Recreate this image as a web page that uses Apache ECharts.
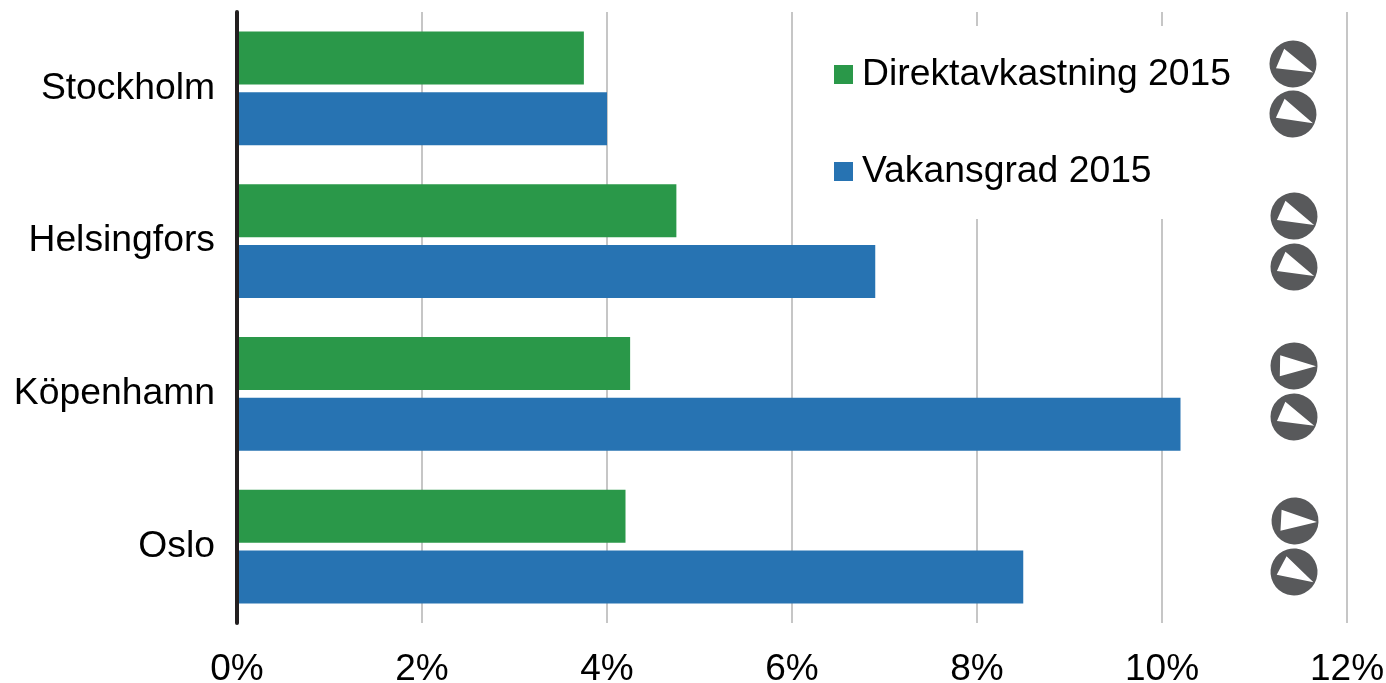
<!DOCTYPE html>
<html><head><meta charset="utf-8">
<script src="https://cdn.jsdelivr.net/npm/echarts@6/dist/echarts.min.js"></script>
<style>html,body{margin:0;padding:0;background:#fff}#c{width:1386px;height:683px}</style></head>
<body><div id="c"></div>
<script>
const cities = ['Stockholm','Helsingfors','Köpenhamn','Oslo'];
const yieldName = 'Direktavkastning 2015';
const vacancyName = 'Vakansgrad 2015';
const yield2015 = [3.75,4.75,4.25,4.2];
const vacancy2015 = [4.0,6.9,10.2,8.5];
const arrowX = [11.416,11.416,11.427,11.427,11.427,11.427,11.438,11.427];
const arrowY = [0.34,0.668,1.336,1.67,2.317,2.651,3.332,3.666];
const arrowAngle = [23,24.5,24,24,1,23.5,3,28];
const xTicks = [0,2,4,6,8,10,12];
const discPath = 'path://M0 -23.5A23.5 23.5 0 1 1 0 23.5A23.5 23.5 0 1 1 0 -23.5ZM22 0L-14 -10.5L-14 10.5Z';
const font = 'Liberation Sans';
const chart = echarts.init(document.getElementById('c'));
chart.setOption({
  animation:false,
  backgroundColor:'#fff',
  textStyle:{fontFamily:font},
  grid:{left:237,top:12,width:1110,height:611,outerBoundsMode:'none',containLabel:false},
  legend:{
    data:[yieldName,vacancyName],
    orient:'vertical',left:830,top:26,
    width:408,
    backgroundColor:'#fff',
    padding:[30,6,29,4],
    itemWidth:19,itemHeight:19,itemGap:60,
    icon:'rect',
    selectedMode:false,
    z:5,
    textStyle:{fontFamily:font,fontSize:37.3,color:'#000',lineHeight:37,padding:[0,0,0,4]}
  },
  xAxis:{
    type:'value',min:0,max:12,interval:2,
    axisLabel:{formatter:v=>v+'%',fontSize:37,color:'#000',margin:28,fontFamily:font,
      customValues:xTicks},
    axisLine:{show:false},axisTick:{show:false},
    splitLine:{show:true,lineStyle:{color:'#c6c6c6',width:2}}
  },
  yAxis:[{
    type:'category',data:cities,inverse:true,z:6,
    axisLabel:{fontSize:37.3,color:'#000',margin:22,fontFamily:font,padding:[4,0,0,0]},
    axisLine:{show:true,lineStyle:{color:'#231f20',width:4}},
    axisTick:{show:false},splitLine:{show:false}
  },{
    type:'value',min:0,max:4,inverse:true,show:false
  }],
  series:[
    {name:yieldName,type:'bar',data:yield2015,barWidth:53,barGap:'15%',itemStyle:{color:'#2a9849'},z:3},
    {name:vacancyName,type:'bar',data:vacancy2015,barWidth:53,barGap:'15%',itemStyle:{color:'#2773b2'},z:3},
    {name:'Trend',type:'scatter',yAxisIndex:1,symbol:discPath,symbolSize:47,
     data:arrowX.map((x,i)=>({value:[x,arrowY[i]],symbolRotate:-arrowAngle[i]})),
     itemStyle:{color:'#58595b',opacity:1},z:4}
  ]
});
</script></body></html>
